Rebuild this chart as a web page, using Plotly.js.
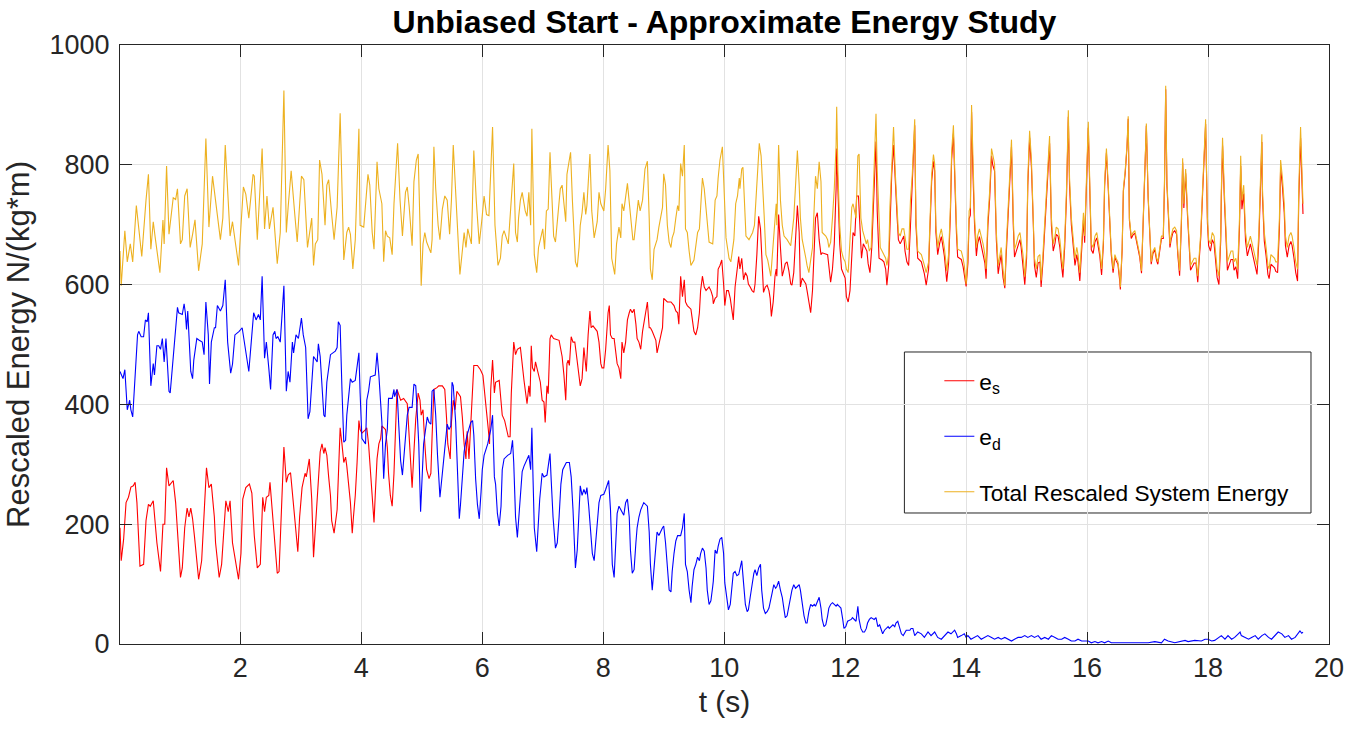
<!DOCTYPE html>
<html>
<head>
<meta charset="utf-8">
<script src="https://cdn.plot.ly/plotly-3.0.1.min.js"></script>
<style>html,body{margin:0;padding:0;background:#fff;}#chart{width:1360px;height:730px;}</style>
</head>
<body>
<div id="chart"></div>
<script>
// Series labels
const seriesNames = ['e<sub>s</sub>', 'e<sub>d</sub>', 'Total Rescaled System Energy'];
const xTicks = [2, 4, 6, 8, 10, 12, 14, 16, 18, 20];
const yTicks = [0, 200, 400, 600, 800, 1000];

// e_s : [t (s), value]
const esPoints = [
[0.01,194],[0.03,139],[0.07,175],[0.11,236],[0.15,245],[0.19,262],[0.23,264],[0.26,270],[0.29,236],[0.34,130],[0.40,133],[0.44,206],[0.48,233],[0.51,230],[0.56,239],[0.62,169],[0.68,121],[0.72,200],[0.75,200],[0.78,294],[0.82,264],[0.89,273],[0.93,236],[0.97,169],[1.01,111],[1.04,127],[1.08,194],[1.12,227],[1.15,212],[1.18,227],[1.21,209],[1.24,181],[1.31,108],[1.36,139],[1.40,212],[1.44,294],[1.48,261],[1.52,267],[1.57,212],[1.59,169],[1.65,111],[1.69,133],[1.73,194],[1.76,239],[1.80,221],[1.83,239],[1.87,169],[1.97,108],[2.01,151],[2.04,242],[2.09,261],[2.15,267],[2.19,252],[2.23,181],[2.28,127],[2.33,133],[2.37,245],[2.40,221],[2.43,245],[2.47,248],[2.49,270],[2.54,212],[2.61,118],[2.64,121],[2.68,212],[2.72,329],[2.76,270],[2.79,282],[2.83,286],[2.87,242],[2.91,194],[2.95,154],[2.98,212],[3.02,261],[3.07,285],[3.09,279],[3.14,309],[3.18,242],
[3.21,145],[3.24,191],[3.29,267],[3.32,321],[3.35,334],[3.38,318],[3.40,328],[3.43,315],[3.46,279],[3.49,248],[3.51,206],[3.55,185],[3.60,224],[3.62,273],[3.65,361],[3.68,334],[3.71,303],[3.74,312],[3.76,297],[3.82,236],[3.85,185],[3.87,212],[3.90,248],[3.93,303],[3.96,373],[3.98,358],[4.01,352],[4.07,358],[4.09,361],[4.12,334],[4.15,285],[4.18,242],[4.21,203],[4.23,248],[4.26,309],[4.29,334],[4.32,343],[4.34,364],[4.40,358],[4.43,328],[4.45,285],[4.48,248],[4.51,230],[4.54,285],[4.56,340],[4.59,425],[4.65,407],[4.70,410],[4.76,401],[4.79,346],[4.81,303],[4.84,261],[4.87,321],[4.90,376],[4.94,419],[4.97,407],[4.99,382],[5.02,391],[5.05,334],[5.08,291],[5.12,276],[5.15,285],[5.17,346],[5.20,425],[5.25,428],[5.28,431],[5.34,431],[5.38,425],[5.41,376],[5.43,334],[5.47,309],[5.49,370],[5.52,407],[5.55,391],[5.58,422],[5.60,419],[5.64,413],[5.67,379],[5.70,334],[5.73,309],[5.75,355],[5.78,309],[5.81,364],[5.84,425],[5.86,465],[5.92,465],[5.97,458],[6.01,449],[6.04,413],[6.07,388],[6.10,358],[6.12,334],[6.14,425],[6.17,474],[6.20,419],[6.22,437],[6.28,440],[6.33,382],[6.37,373],[6.43,346],[6.46,346],[6.48,419],
[6.52,504],[6.55,483],[6.58,492],[6.63,495],[6.69,440],[6.71,422],[6.74,401],[6.77,431],[6.79,413],[6.81,498],[6.83,461],[6.86,455],[6.88,471],[6.91,458],[6.96,437],[6.99,407],[7.02,404],[7.04,370],[7.06,413],[7.07,431],[7.09,418],[7.12,510],[7.14,516],[7.18,510],[7.27,507],[7.29,498],[7.32,480],[7.35,449],[7.38,407],[7.40,468],[7.42,474],[7.44,465],[7.47,513],[7.50,504],[7.53,504],[7.56,480],[7.59,455],[7.62,431],[7.65,443],[7.68,495],[7.70,475],[7.72,455],[7.75,516],[7.78,556],[7.80,528],[7.83,531],[7.90,522],[7.93,504],[7.96,468],[7.98,461],[8.01,461],[8.04,492],[8.08,553],[8.10,565],[8.12,516],[8.15,510],[8.18,510],[8.20,492],[8.23,468],[8.26,461],[8.29,443],[8.31,504],[8.34,486],[8.37,504],[8.40,541],[8.43,553],[8.45,559],[8.48,553],[8.51,559],[8.54,534],[8.56,510],[8.59,504],[8.62,492],[8.65,522],[8.67,534],[8.70,553],[8.73,571],[8.76,528],[8.78,528],[8.81,522],[8.84,513],[8.87,507],[8.89,486],[8.92,501],[8.95,516],[8.98,528],[9.00,577],[9.03,574],[9.06,571],[9.12,571],[9.17,565],[9.20,556],[9.23,553],[9.25,534],[9.28,614],[9.31,580],[9.34,608],[9.36,571],[9.39,565],[9.45,559],[9.47,547],[9.50,522],[9.53,516],[9.56,528],[9.59,553],[9.61,590],[9.64,614],[9.67,596],[9.70,590],[9.75,596],[9.78,590],[9.81,580],
[9.82,568],[9.85,577],[9.88,580],[9.90,626],[9.93,632],[9.96,641],[9.99,601],[10.01,565],[10.04,590],[10.07,590],[10.10,577],[10.13,553],[10.15,541],[10.18,596],[10.21,620],[10.24,647],[10.26,626],[10.29,644],[10.32,608],[10.35,620],[10.38,614],[10.40,601],[10.43,596],[10.46,590],[10.49,587],[10.51,601],[10.54,650],[10.57,714],[10.60,693],[10.62,650],[10.65,587],[10.68,596],[10.71,599],[10.74,590],[10.76,577],[10.78,547],[10.81,571],[10.84,614],[10.86,626],[10.87,614],[10.90,717],[10.93,662],[10.96,614],[10.99,626],[11.01,635],[11.04,638],[11.07,623],[11.10,601],[11.12,599],[11.15,620],[11.18,668],[11.21,732],[11.24,687],[11.26,596],[11.29,611],[11.35,601],[11.37,590],[11.40,571],[11.43,553],[11.46,590],[11.49,668],[11.51,711],[11.54,720],[11.57,675],[11.60,650],[11.62,653],[11.71,650],[11.73,635],[11.76,604],[11.79,626],[11.82,668],[11.85,760],[11.86,827],[11.88,760],[11.91,668],[11.94,626],[11.97,617],[12.00,611],[12.02,580],[12.05,571],[12.08,590],[12.11,644],[12.13,687],[12.16,681],[12.19,748],[12.22,748],[12.25,687],[12.27,644],[12.30,668],[12.33,662],[12.36,656],[12.38,635],[12.41,620],[12.44,662],[12.47,748],[12.49,790],[12.51,839],[12.53,723],[12.56,644],[12.61,641],[12.64,638],[12.67,626],[12.69,599],[12.72,632],[12.74,711],[12.77,784],[12.80,833],[12.83,760],[12.86,711],[12.88,675],[12.91,668],[12.97,681],[12.99,656],[13.02,638],[13.05,632],[13.08,699],[13.11,784],[13.13,808],
[13.15,866],[13.17,700],[13.20,644],[13.26,638],[13.28,630],[13.31,618],[13.34,599],[13.38,626],[13.40,688],[13.43,772],[13.46,806],[13.48,790],[13.50,688],[13.53,650],[13.56,668],[13.59,680],[13.61,668],[13.64,648],[13.68,605],[13.71,636],[13.74,716],[13.76,808],[13.79,852],[13.81,778],[13.84,686],[13.86,646],[13.92,642],[13.95,630],[13.97,616],[14.00,597],[14.03,636],[14.05,710],[14.07,716],[14.09,888],[14.11,796],[14.14,698],[14.17,648],[14.19,668],[14.22,680],[14.28,654],[14.31,636],[14.33,610],[14.36,698],[14.39,745],[14.42,815],[14.44,800],[14.47,790],[14.50,674],[14.53,618],[14.55,632],[14.58,650],[14.61,612],[14.64,594],[14.66,644],[14.69,699],[14.72,760],[14.75,830],[14.78,699],[14.80,646],[14.83,656],[14.86,668],[14.89,675],[14.91,662],[14.94,636],[14.97,600],[15.00,644],[15.02,766],[15.05,845],[15.08,796],[15.11,704],[15.13,632],[15.16,612],[15.19,636],[15.22,638],[15.24,596],[15.27,638],[15.30,687],[15.33,748],[15.36,790],[15.38,836],[15.41,699],[15.44,656],[15.47,669],[15.49,684],[15.52,681],[15.55,662],[15.58,630],[15.60,612],[15.63,663],[15.66,748],[15.69,880],[15.71,766],[15.74,700],[15.77,670],[15.80,632],[15.83,650],[15.85,638],[15.88,606],[15.91,656],[15.94,708],[15.96,670],[15.99,773],[16.02,862],[16.05,738],[16.07,658],[16.10,652],[16.13,671],[16.16,678],[16.18,666],[16.21,648],[16.24,616],[16.27,667],[16.29,764],[16.32,820],[16.35,760],[16.38,692],[16.40,650],[16.43,620],
[16.46,646],[16.48,640],[16.51,634],[16.54,606],[16.55,592],[16.58,658],[16.60,756],[16.63,786],[16.66,829],[16.68,877],[16.70,707],[16.73,677],[16.76,683],[16.79,686],[16.84,664],[16.87,646],[16.90,619],[16.92,683],[16.95,756],[16.98,865],[17.01,744],[17.04,671],[17.06,634],[17.09,652],[17.12,658],[17.15,640],[17.17,634],[17.23,677],[17.26,677],[17.28,766],[17.30,926],[17.32,766],[17.34,723],[17.37,662],[17.39,675],[17.42,687],[17.45,690],[17.48,684],[17.50,650],[17.53,615],[17.56,703],[17.58,804],[17.60,728],[17.63,786],[17.66,716],[17.69,660],[17.71,624],[17.74,630],[17.77,636],[17.80,636],[17.83,604],[17.85,636],[17.88,679],[17.91,752],[17.94,813],[17.96,868],[17.99,702],[18.01,665],[18.04,656],[18.07,675],[18.10,668],[18.12,643],[18.15,612],[18.18,600],[18.21,674],[18.22,748],[18.24,832],[18.27,742],[18.30,662],[18.32,624],[18.38,642],[18.41,642],[18.43,624],[18.46,630],[18.49,610],[18.52,696],[18.54,798],[18.56,726],[18.59,752],[18.62,673],[18.65,648],[18.68,662],[18.70,668],[18.73,654],[18.76,642],[18.79,630],[18.81,617],[18.84,673],[18.87,760],[18.89,838],[18.90,748],[18.93,673],[18.96,648],[18.99,617],[19.01,610],[19.04,634],[19.10,628],[19.12,622],[19.15,620],[19.18,694],[19.20,795],[19.23,764],[19.26,720],[19.28,665],[19.31,646],[19.34,665],[19.37,672],[19.39,665],[19.42,645],[19.45,620],[19.48,606],[19.50,742],[19.53,845],[19.55,790],[19.57,718]
];

// e_d : [t (s), value]
const edPoints = [
[0.01,455],[0.06,443],[0.09,458],[0.13,391],[0.17,407],[0.19,391],[0.22,379],[0.26,455],[0.30,516],[0.32,522],[0.36,513],[0.40,513],[0.43,541],[0.46,538],[0.48,553],[0.52,431],[0.56,468],[0.58,449],[0.62,498],[0.65,498],[0.68,492],[0.71,510],[0.74,471],[0.77,510],[0.79,480],[0.82,422],[0.84,419],[0.89,480],[0.92,504],[0.96,562],[0.98,553],[1.04,550],[1.07,568],[1.09,553],[1.11,525],[1.13,556],[1.18,455],[1.21,443],[1.23,474],[1.28,510],[1.32,507],[1.37,504],[1.40,483],[1.43,571],[1.47,516],[1.49,434],[1.52,504],[1.57,528],[1.59,528],[1.62,565],[1.67,556],[1.71,565],[1.75,608],[1.79,504],[1.84,452],[1.87,467],[1.91,516],[1.98,522],[2.03,528],[2.07,501],[2.09,492],[2.14,455],[2.18,504],[2.22,553],[2.26,541],[2.30,550],[2.33,541],[2.36,614],[2.40,477],[2.43,504],[2.47,461],[2.50,425],[2.54,516],[2.57,522],[2.59,510],[2.62,513],[2.66,504],[2.72,598],[2.76,422],[2.79,455],[2.82,437],[2.86,504],[2.88,486],[2.92,516],[2.96,510],[3.01,544],[3.04,516],[3.08,495],[3.12,376],[3.15,388],
[3.21,480],[3.27,471],[3.29,501],[3.32,480],[3.38,382],[3.40,379],[3.43,437],[3.46,461],[3.49,483],[3.57,489],[3.60,495],[3.62,538],[3.65,532],[3.68,425],[3.71,337],[3.74,340],[3.76,382],[3.82,443],[3.85,437],[3.90,440],[3.96,486],[3.98,419],[4.01,343],[4.07,334],[4.09,407],[4.12,422],[4.15,446],[4.23,449],[4.26,486],[4.29,449],[4.32,407],[4.34,370],[4.37,276],[4.40,334],[4.43,358],[4.45,410],[4.51,410],[4.54,425],[4.55,413],[4.59,425],[4.62,364],[4.65,306],[4.68,282],[4.70,309],[4.73,358],[4.76,382],[4.79,395],[4.84,395],[4.87,434],[4.90,431],[4.92,395],[4.95,334],[4.98,221],[5.01,288],[5.03,334],[5.09,379],[5.12,370],[5.15,367],[5.17,422],[5.20,425],[5.23,382],[5.26,315],[5.30,245],[5.34,285],[5.37,315],[5.39,334],[5.42,367],[5.45,358],[5.48,364],[5.50,437],[5.52,431],[5.56,370],[5.59,291],[5.62,209],[5.64,233],[5.67,285],[5.70,321],[5.73,340],[5.75,349],[5.81,370],[5.84,373],[5.86,349],[5.89,276],[5.92,233],[5.95,209],[5.98,254],[6.00,291],[6.03,315],[6.09,334],[6.14,358],[6.17,382],[6.20,279],[6.22,267],[6.25,218],[6.28,197],[6.31,230],[6.33,291],[6.36,309],[6.42,315],[6.47,318],[6.50,340],
[6.52,303],[6.55,212],[6.58,178],[6.63,248],[6.66,288],[6.69,297],[6.74,309],[6.77,315],[6.80,291],[6.82,361],[6.84,273],[6.86,194],[6.90,154],[6.92,187],[6.95,242],[6.99,285],[7.02,279],[7.07,282],[7.12,318],[7.14,273],[7.17,212],[7.21,160],[7.24,169],[7.27,212],[7.30,267],[7.33,291],[7.39,303],[7.44,303],[7.47,279],[7.50,224],[7.53,163],[7.54,127],[7.57,157],[7.60,212],[7.62,264],[7.65,248],[7.68,258],[7.71,250],[7.73,261],[7.76,230],[7.79,187],[7.82,151],[7.85,139],[7.90,200],[7.93,236],[7.96,248],[8.01,250],[8.04,258],[8.07,267],[8.09,273],[8.12,224],[8.15,133],[8.18,111],[8.20,151],[8.23,218],[8.26,230],[8.34,215],[8.37,236],[8.40,242],[8.43,212],[8.45,157],[8.48,118],[8.51,124],[8.54,169],[8.56,194],[8.59,212],[8.62,224],[8.67,236],[8.73,230],[8.76,187],[8.78,133],[8.81,90],[8.84,121],[8.87,163],[8.89,187],[8.92,181],[8.98,194],[9.00,197],[9.03,169],[9.06,121],[9.09,90],[9.12,87],[9.14,121],[9.17,151],[9.20,172],[9.23,181],[9.28,181],[9.31,194],[9.34,218],[9.36,133],[9.39,121],[9.42,90],[9.45,69],[9.47,96],[9.50,124],[9.53,133],[9.56,145],[9.59,139],[9.61,151],[9.64,160],[9.67,155],[9.70,127],[9.72,90],[9.75,66],[9.78,72],[9.81,96],
[9.82,105],[9.85,157],[9.88,151],[9.90,163],[9.93,175],[9.96,178],[9.99,151],[10.01,102],[10.04,78],[10.07,57],[10.10,66],[10.13,96],[10.15,118],[10.18,121],[10.21,114],[10.24,116],[10.26,127],[10.29,139],[10.32,102],[10.35,66],[10.38,54],[10.40,57],[10.43,78],[10.46,102],[10.49,118],[10.51,124],[10.54,114],[10.57,127],[10.60,133],[10.62,90],[10.65,60],[10.68,51],[10.71,54],[10.74,60],[10.76,72],[10.79,84],[10.82,99],[10.85,93],[10.87,96],[10.90,105],[10.93,90],[10.96,78],[10.99,57],[11.01,44],[11.04,47],[11.07,66],[11.10,78],[11.12,90],[11.15,99],[11.18,93],[11.21,96],[11.24,99],[11.26,90],[11.29,66],[11.32,47],[11.35,35],[11.37,35],[11.40,54],[11.43,66],[11.46,63],[11.49,66],[11.51,63],[11.54,72],[11.57,78],[11.60,60],[11.62,41],[11.65,29],[11.68,32],[11.71,47],[11.73,60],[11.76,66],[11.79,69],[11.82,66],[11.85,63],[11.87,66],[11.90,63],[11.93,60],[11.96,41],[11.98,26],[12.01,29],[12.04,38],[12.10,41],[12.12,44],[12.18,38],[12.21,63],[12.23,41],[12.26,26],[12.29,20],[12.32,20],[12.35,26],[12.37,35],[12.40,41],[12.43,44],[12.48,41],[12.51,44],[12.54,29],[12.57,32],[12.60,23],[12.62,17],[12.65,23],[12.68,26],[12.71,29],[12.73,26],[12.76,29],[12.79,32],[12.82,29],[12.84,35],[12.87,38],[12.90,26],[12.93,17],[12.96,14],[12.98,17],[13.01,23],[13.04,23],[13.07,23],[13.09,26],[13.12,26],
[13.15,14],[13.20,20],[13.26,17],[13.31,11],[13.37,20],[13.42,14],[13.48,20],[13.53,11],[13.59,8],[13.64,14],[13.70,20],[13.75,17],[13.81,23],[13.84,17],[13.86,11],[13.92,14],[13.97,17],[14.00,11],[14.03,14],[14.08,8],[14.14,11],[14.19,14],[14.25,8],[14.31,11],[14.36,14],[14.42,11],[14.47,8],[14.53,11],[14.58,8],[14.64,11],[14.69,8],[14.75,5],[14.80,8],[14.86,11],[14.91,11],[14.97,14],[15.02,11],[15.08,14],[15.13,11],[15.19,14],[15.24,8],[15.30,11],[15.36,8],[15.41,14],[15.47,11],[15.52,8],[15.58,8],[15.63,11],[15.69,8],[15.74,5],[15.80,5],[15.85,8],[15.91,5],[15.96,5],[16.02,5],[16.07,2],[16.13,4],[16.18,2],[16.24,4],[16.29,2],[16.35,5],[16.40,2],
[16.46,2],[16.57,2],[16.68,3],[16.79,2],[16.90,3],[17.01,2],[17.12,4],[17.23,2],[17.28,8],[17.34,5],[17.45,2],[17.56,5],[17.62,6],[17.67,4],[17.78,6],[17.89,5],[17.95,8],[18.00,8],[18.06,5],[18.11,6],[18.17,11],[18.22,14],[18.28,8],[18.33,14],[18.39,8],[18.44,11],[18.50,17],[18.53,20],[18.55,14],[18.61,11],[18.67,8],[18.72,11],[18.78,14],[18.83,8],[18.89,14],[18.94,17],[19.00,11],[19.05,8],[19.11,14],[19.16,20],[19.22,17],[19.27,11],[19.33,14],[19.38,8],[19.44,11],[19.49,17],[19.52,22],[19.55,18],[19.57,20]
];

// Total rescaled system energy : [t (s), value]
const totalPoints = [
[0.01,656],[0.03,598],[0.09,690],[0.13,638],[0.18,668],[0.22,638],[0.28,732],[0.37,647],[0.44,741],[0.48,784],[0.52,659],[0.56,705],[0.59,680],[0.67,620],[0.72,708],[0.74,668],[0.78,798],[0.82,684],[0.89,745],[0.93,742],[0.96,760],[1.01,668],[1.04,675],[1.08,748],[1.12,760],[1.17,662],[1.21,684],[1.25,708],[1.31,623],[1.37,668],[1.43,844],[1.48,696],[1.54,781],[1.67,675],[1.71,711],[1.75,833],[1.83,681],[1.87,705],[1.97,632],[2.05,763],[2.09,751],[2.14,711],[2.21,784],[2.23,781],[2.28,675],[2.36,827],[2.40,693],[2.44,748],[2.48,693],[2.54,729],[2.61,635],[2.66,687],[2.72,924],[2.76,687],[2.79,729],[2.84,790],[2.90,717],[2.94,671],[3.01,781],[3.05,775],[3.11,662],[3.18,711],
[3.21,632],[3.24,668],[3.28,675],[3.31,808],[3.35,784],[3.38,741],[3.40,699],[3.43,766],[3.46,775],[3.51,717],[3.55,675],[3.60,729],[3.65,886],[3.71,641],[3.76,687],[3.79,696],[3.82,684],[3.86,626],[3.90,675],[3.96,860],[3.98,699],[4.04,696],[4.07,729],[4.11,784],[4.14,766],[4.18,687],[4.21,659],[4.23,735],[4.26,805],[4.29,760],[4.34,735],[4.37,638],[4.40,690],[4.43,681],[4.47,678],[4.51,650],[4.54,735],[4.60,836],[4.64,742],[4.68,681],[4.70,705],[4.73,754],[4.76,763],[4.79,732],[4.84,665],[4.87,772],[4.91,808],[4.94,818],[4.97,699],[4.99,598],[5.02,668],[5.05,687],[5.08,671],[5.15,653],[5.17,675],[5.20,830],[5.23,760],[5.27,699],[5.30,675],[5.34,726],[5.38,748],[5.42,741],[5.46,684],[5.49,741],[5.52,833],[5.56,757],[5.63,617],[5.67,656],[5.70,687],[5.73,662],[5.76,693],[5.82,668],[5.86,824],[5.90,741],[5.95,668],[5.99,705],[6.03,748],[6.07,717],[6.11,715],[6.17,863],[6.21,699],[6.26,632],[6.30,644],[6.33,681],[6.36,690],[6.43,668],[6.47,729],
[6.52,802],[6.55,687],[6.58,671],[6.60,711],[6.63,741],[6.66,754],[6.71,723],[6.74,714],[6.77,754],[6.80,699],[6.82,860],[6.84,760],[6.86,650],[6.90,620],[6.93,662],[6.96,675],[7.00,693],[7.03,659],[7.06,723],[7.09,726],[7.12,821],[7.14,772],[7.18,681],[7.21,671],[7.25,723],[7.29,760],[7.32,766],[7.38,705],[7.40,784],[7.46,821],[7.49,741],[7.51,687],[7.54,638],[7.57,629],[7.60,662],[7.62,699],[7.65,720],[7.68,754],[7.71,717],[7.73,732],[7.78,818],[7.81,723],[7.85,678],[7.90,705],[7.93,754],[7.96,735],[8.01,723],[8.04,760],[8.08,833],[8.11,790],[8.14,644],[8.19,617],[8.22,668],[8.26,696],[8.29,678],[8.31,735],[8.34,723],[8.40,769],[8.45,717],[8.49,675],[8.51,675],[8.55,717],[8.58,741],[8.61,723],[8.65,741],[8.69,793],[8.73,806],[8.76,711],[8.78,626],[8.81,608],[8.84,659],[8.89,675],[8.92,696],[8.98,729],[9.00,785],[9.03,766],[9.06,699],[9.09,671],[9.12,662],[9.14,678],[9.17,687],[9.20,711],[9.23,732],[9.25,723],[9.28,802],[9.31,781],[9.34,833],[9.36,693],[9.39,687],[9.42,656],[9.45,632],[9.50,641],[9.53,668],[9.56,687],[9.59,693],[9.61,738],[9.64,778],[9.67,760],[9.70,726],[9.72,693],[9.75,671],[9.81,668],
[9.82,681],[9.85,741],[9.88,748],[9.90,778],[9.93,808],[9.97,830],[10.00,760],[10.03,678],[10.08,644],[10.11,638],[10.16,675],[10.19,735],[10.22,748],[10.25,778],[10.26,760],[10.29,793],[10.31,796],[10.33,741],[10.36,681],[10.41,675],[10.47,687],[10.50,699],[10.52,735],[10.55,796],[10.58,836],[10.61,815],[10.64,766],[10.66,717],[10.69,650],[10.72,641],[10.77,614],[10.80,656],[10.83,699],[10.86,735],[10.87,699],[10.90,833],[10.93,741],[10.96,699],[10.99,681],[11.04,675],[11.10,665],[11.12,687],[11.15,711],[11.18,766],[11.21,824],[11.24,766],[11.26,711],[11.29,675],[11.32,662],[11.35,644],[11.37,632],[11.40,620],[11.46,662],[11.49,741],[11.51,781],[11.54,760],[11.57,805],[11.60,772],[11.62,687],[11.68,681],[11.71,675],[11.73,662],[11.76,671],[11.79,711],[11.82,760],[11.85,833],[11.86,897],[11.88,790],[11.91,699],[11.94,656],[11.97,644],[12.00,638],[12.02,626],[12.05,620],[12.08,687],[12.11,729],[12.13,735],[12.18,711],[12.21,815],[12.23,818],[12.26,711],[12.29,690],[12.35,668],[12.37,675],[12.40,656],[12.43,662],[12.46,741],[12.48,815],[12.51,885],[12.53,790],[12.56,702],[12.58,662],[12.61,656],[12.67,644],[12.69,632],[12.72,650],[12.74,729],[12.77,802],[12.80,863],[12.83,784],[12.86,711],[12.88,687],[12.91,681],[12.94,693],[12.97,693],[12.99,675],[13.02,659],[13.05,659],[13.08,741],[13.11,784],[13.13,833],
[13.15,876],[13.17,711],[13.20,656],[13.26,650],[13.28,644],[13.31,632],[13.34,620],[13.38,638],[13.40,699],[13.43,784],[13.46,817],[13.48,802],[13.50,699],[13.53,662],[13.56,681],[13.59,693],[13.61,681],[13.64,662],[13.68,623],[13.71,650],[13.74,729],[13.76,821],[13.79,866],[13.81,790],[13.84,699],[13.86,659],[13.92,656],[13.95,644],[13.97,632],[14.00,601],[14.03,650],[14.05,723],[14.07,729],[14.09,900],[14.11,808],[14.14,711],[14.17,662],[14.19,681],[14.22,693],[14.28,668],[14.31,650],[14.33,626],[14.36,711],[14.39,757],[14.42,827],[14.44,815],[14.47,802],[14.50,687],[14.53,632],[14.55,644],[14.58,662],[14.61,626],[14.64,598],[14.66,656],[14.69,711],[14.72,772],[14.75,842],[14.78,711],[14.80,659],[14.83,668],[14.86,681],[14.89,687],[14.91,675],[14.94,650],[14.97,613],[15.00,656],[15.02,778],[15.05,857],[15.08,808],[15.11,717],[15.13,644],[15.16,626],[15.19,647],[15.22,650],[15.24,607],[15.27,650],[15.30,699],[15.33,760],[15.36,802],[15.38,848],[15.41,711],[15.44,668],[15.47,681],[15.49,696],[15.52,693],[15.55,675],[15.58,644],[15.60,626],[15.63,675],[15.66,760],[15.69,891],[15.71,778],[15.74,711],[15.77,681],[15.80,644],[15.83,662],[15.85,650],[15.88,620],[15.91,668],[15.94,720],[15.96,681],[15.99,784],[16.02,872],[16.05,748],[16.07,668],[16.10,662],[16.13,681],[16.16,687],[16.18,675],[16.21,656],[16.24,626],[16.27,675],[16.29,772],[16.32,827],[16.35,766],[16.38,699],[16.40,656],[16.43,626],
[16.46,650],[16.48,644],[16.51,638],[16.54,613],[16.55,596],[16.58,662],[16.60,760],[16.63,790],[16.66,833],[16.68,881],[16.70,711],[16.73,681],[16.76,687],[16.79,690],[16.84,668],[16.87,650],[16.90,623],[16.92,687],[16.95,760],[16.98,869],[17.01,748],[17.04,675],[17.06,638],[17.09,656],[17.12,662],[17.15,644],[17.17,638],[17.23,681],[17.26,681],[17.28,772],[17.30,932],[17.32,772],[17.34,729],[17.37,668],[17.39,681],[17.42,693],[17.45,696],[17.48,690],[17.50,656],[17.53,623],[17.56,711],[17.58,811],[17.60,735],[17.63,793],[17.66,723],[17.69,668],[17.71,632],[17.74,638],[17.77,644],[17.80,644],[17.83,614],[17.85,644],[17.88,687],[17.91,760],[17.94,821],[17.96,876],[17.99,711],[18.01,675],[18.04,668],[18.07,687],[18.10,681],[18.12,656],[18.15,626],[18.18,614],[18.21,687],[18.22,760],[18.24,845],[18.27,754],[18.30,675],[18.32,638],[18.38,656],[18.41,656],[18.43,638],[18.46,644],[18.49,626],[18.52,711],[18.54,815],[18.56,741],[18.59,766],[18.62,687],[18.65,662],[18.68,675],[18.70,681],[18.73,668],[18.76,656],[18.79,644],[18.81,632],[18.84,687],[18.87,772],[18.89,851],[18.90,760],[18.93,687],[18.96,662],[18.99,632],[19.01,626],[19.04,650],[19.10,644],[19.12,638],[19.15,638],[19.18,711],[19.20,808],[19.23,778],[19.26,735],[19.28,681],[19.31,662],[19.34,681],[19.37,687],[19.39,681],[19.42,662],[19.45,638],[19.48,626],[19.50,760],[19.53,863],[19.55,808],[19.57,735]
];

const colors = ['#ff0000', '#0000ff', '#edb120'];
const pointSets = [esPoints, edPoints, totalPoints];

const traces = pointSets.map((pts, i) => ({
  type: 'scatter',
  mode: 'lines',
  name: seriesNames[i],
  legendgroup: 'g' + i,
  x: pts.map(p => p[0]),
  y: pts.map(p => p[1]),
  line: {color: colors[i], width: 1.1},
  hoverinfo: 'skip'
}));

const axisColor = '#262626';
const gridColor = '#e2e2e2';

const layout = {
  width: 1360,
  height: 730,
  margin: {l: 120, r: 31, t: 45, b: 86},
  paper_bgcolor: '#ffffff',
  plot_bgcolor: '#ffffff',
  font: {family: 'Liberation Sans, Arial, sans-serif', color: axisColor},
  showlegend: true,
  title: {
    text: '<b>Unbiased Start - Approximate Energy Study</b>',
    x: 0.5, xref: 'paper', xanchor: 'center',
    y: 1 - 22 / 730, yref: 'container', yanchor: 'middle',
    font: {size: 32, color: '#000000', family: 'Liberation Sans, Arial, sans-serif'}
  },
  xaxis: {
    range: [0.01, 20],
    tickvals: xTicks,
    ticktext: xTicks.map(String),
    ticks: 'inside', ticklen: 12, tickwidth: 1, tickcolor: axisColor,
    showline: true, linecolor: axisColor, linewidth: 1, mirror: 'ticks',
    showgrid: true, gridcolor: gridColor, gridwidth: 1,
    zeroline: false,
    tickfont: {size: 27, color: axisColor},
    title: {text: 't (s)', font: {size: 30, color: axisColor}, standoff: 8},
    automargin: false
  },
  yaxis: {
    range: [0, 1000],
    tickvals: yTicks,
    ticktext: yTicks.map(String),
    ticks: 'inside', ticklen: 12, tickwidth: 1, tickcolor: axisColor,
    showline: true, linecolor: axisColor, linewidth: 1, mirror: 'ticks',
    showgrid: true, gridcolor: gridColor, gridwidth: 1,
    zeroline: false,
    tickfont: {size: 27, color: axisColor},
    ticklabelstandoff: 4,
    title: {text: 'Rescaled Energy N/(kg*m)', font: {size: 31, color: axisColor}, standoff: 10},
    automargin: false
  },
  legend: {
    x: 0.6777, y: 0.475, xanchor: 'left', yanchor: 'top',
    bgcolor: 'rgba(0,0,0,0)', borderwidth: 0,
    font: {size: 22.7, color: '#000000'},
    tracegroupgap: 23,
    itemclick: false, itemdoubleclick: false
  },
  shapes: [{
    type: 'rect', xref: 'paper', yref: 'paper',
    x0: 0.6488, x1: 0.9851, y0: 0.2187, y1: 0.4875,
    line: {color: axisColor, width: 1},
    fillcolor: '#ffffff', layer: 'between'
  }]
};

Plotly.newPlot('chart', traces, layout, {staticPlot: true, displayModeBar: false});
</script>
</body>
</html>
